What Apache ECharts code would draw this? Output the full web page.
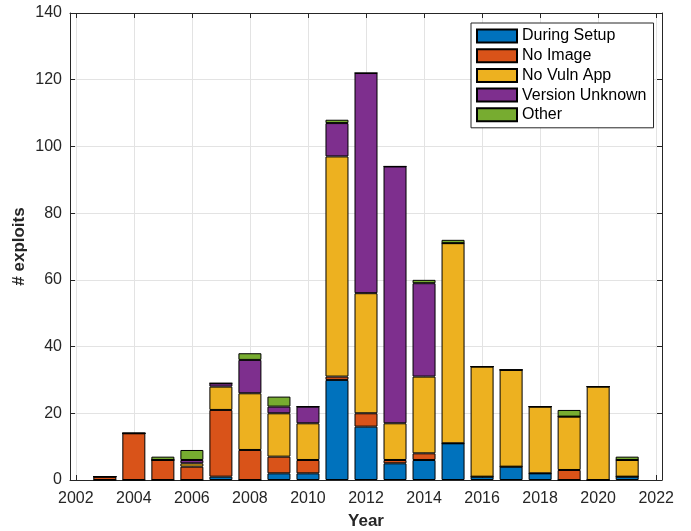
<!DOCTYPE html>
<html>
<head>
<meta charset="utf-8">
<script src="https://cdn.jsdelivr.net/npm/echarts@6/dist/echarts.min.js"></script>
<style>
html,body{margin:0;padding:0;background:#fff;}
#chart{width:691px;height:531px;}
</style>
</head>
<body>
<div id="chart"></div>
<script>
const years = [2003,2004,2005,2006,2007,2008,2009,2010,2011,2012,2013,2014,2015,2016,2017,2018,2019,2020,2021];
const duringSetup    = [0,0,0,0,1,0,2,2,30,16,5,6,11,1,4,2,0,0,1];
const noImage        = [1,14,6,4,20,9,5,4,1,4,1,2,0,0,0,0,3,0,0];
const noVulnApp      = [0,0,0,1,7,17,13,11,66,36,11,23,60,33,29,20,16,28,5];
const versionUnknown = [0,0,0,1,1,10,2,5,10,66,77,28,0,0,0,0,0,0,0];
const other          = [0,0,1,3,0,2,3,0,1,0,0,1,1,0,0,0,2,0,1];
const xTicks = [2002,2004,2006,2008,2010,2012,2014,2016,2018,2020,2022];
const seriesNames = ['During Setup','No Image','No Vuln App','Version Unknown','Other'];
const seriesColors = ['#0072BD','#D95319','#EDB120','#7E2F8E','#77AC30'];
const seriesValues = [duringSetup, noImage, noVulnApp, versionUnknown, other];

const axisColor = '#262626';
const font = 'Liberation Sans, Arial, Helvetica, sans-serif';

const chart = echarts.init(document.getElementById('chart'), null, {renderer:'canvas'});

// data as [value, year] so that the stacked dimension is the value (y) dimension
const series = seriesNames.map((name, i) => ({
  name: name,
  type: 'bar',
  stack: 'total',
  barWidth: 23,
  xAxisIndex: 0,
  yAxisIndex: 0,
  encode: {x: 1, y: 0},
  itemStyle: {color: seriesColors[i], borderColor: '#000', borderWidth: 1},
  emphasis: {disabled: true},
  data: years.map((y, j) => [seriesValues[i][j], y])
}));

chart.setOption({
  animation: false,
  backgroundColor: '#fff',
  grid: {left: 70, right: 29, top: 13, bottom: 51, containLabel: false, outerBoundsMode: 'none'},
  legend: {
    orient: 'vertical',
    left: 471, top: 23,
    padding: [5, 7, 5, 5],
    itemWidth: 40, itemHeight: 13, itemGap: 3.7,
    backgroundColor: '#fff',
    borderColor: axisColor, borderWidth: 1,
    icon: 'rect',
    textStyle: {fontFamily: font, fontSize: 16, color: '#000'},
    data: seriesNames
  },
  xAxis: [
    {
      type: 'value', min: 2001.8, max: 2022.2, position: 'bottom',
      name: 'Year', nameLocation: 'middle', nameGap: 33, nameMoveOverlap: false,
      nameTextStyle: {fontFamily: font, fontSize: 17, fontWeight: 'bold', color: axisColor},
      axisLine: {show: true, onZero: false, lineStyle: {color: axisColor, width: 1}},
      axisTick: {show: true, inside: true, length: 5, customValues: xTicks, lineStyle: {color: axisColor}},
      axisLabel: {show: true, margin: 11, customValues: xTicks,
        fontFamily: font, fontSize: 16, color: axisColor, formatter: v => String(v)},
      splitLine: {show: true, lineStyle: {color: '#e3e3e3', width: 1}}
    },
    {
      type: 'value', min: 2001.8, max: 2022.2, position: 'top',
      axisLine: {show: true, onZero: false, lineStyle: {color: axisColor, width: 1}},
      axisTick: {show: true, inside: true, length: 5, customValues: xTicks, lineStyle: {color: axisColor}},
      axisLabel: {show: false},
      splitLine: {show: false}
    }
  ],
  yAxis: [
    {
      type: 'value', min: 0, max: 140, interval: 20, position: 'left',
      name: '# exploits', nameLocation: 'middle', nameGap: 42, nameMoveOverlap: false,
      nameTextStyle: {fontFamily: font, fontSize: 17, fontWeight: 'bold', color: axisColor},
      axisLine: {show: true, lineStyle: {color: axisColor, width: 1}},
      axisTick: {show: true, inside: true, length: 5, lineStyle: {color: axisColor}},
      axisLabel: {show: true, margin: 8, fontFamily: font, fontSize: 16, color: axisColor},
      splitLine: {show: true, lineStyle: {color: '#e3e3e3', width: 1}}
    },
    {
      type: 'value', min: 0, max: 140, interval: 20, position: 'right',
      axisLine: {show: true, lineStyle: {color: axisColor, width: 1}},
      axisTick: {show: true, inside: true, length: 5, lineStyle: {color: axisColor}},
      axisLabel: {show: false},
      splitLine: {show: false}
    }
  ],
  series: series
});
</script>
</body>
</html>
